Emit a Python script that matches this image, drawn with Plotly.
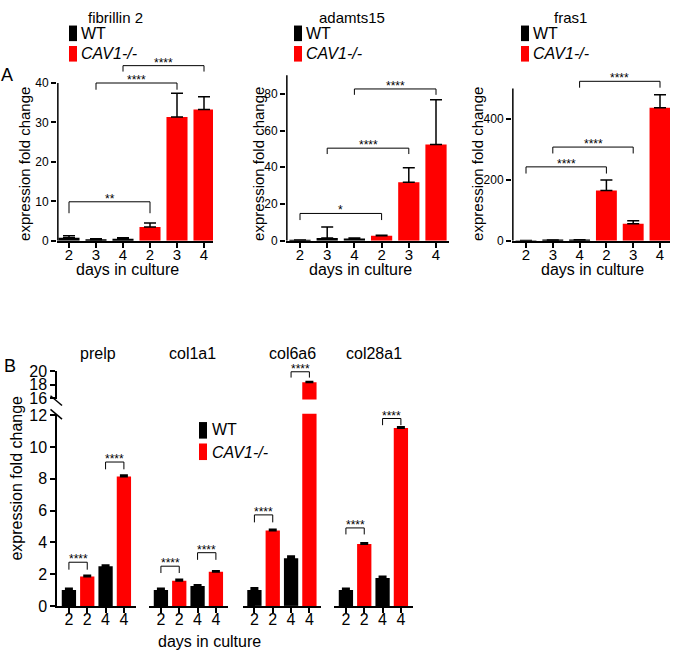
import plotly.graph_objects as go

W, H = 675, 660
FONT = "Liberation Sans, Arial, Helvetica, sans-serif"
BLACK = "#000000"
RED = "#ff0000"

# ---------------- Panel A data ----------------
a_titles = ["fibrillin 2", "adamts15", "fras1"]
a_tick_labels = ["2", "3", "4", "2", "3", "4"]
a_wt_x = [0, 1, 2]
a_cav_x = [3, 4, 5]
a_wt = [[0.8, 0.3, 0.5], [0.5, 1.5, 1.3], [1.0, 2.0, 3.0]]
a_wt_err = [[0.5, 0.2, 0.3], [0.0, 6.0, 0.2], [0.5, 0.5, 1.0]]
a_cav = [[3.5, 31.4, 33.3], [2.8, 31.8, 52.4], [165, 56, 437]]
a_cav_err = [[1.0, 6.0, 3.2], [0.2, 8.0, 24.3], [35, 10, 43]]
a_yticks = [[0, 10, 20, 30, 40], [0, 20, 40, 60, 80], [0, 200, 400]]
a_axis_top = [40, 90, 500]
# (bar from, bar to, bracket top, tip end, label)
a_brackets = [
    [(0, 3, 9.9, 7.0, "**"), (1, 4, 40.0, 38.3, "****"), (2, 5, 44.4, 42.9, "****")],
    [(0, 3, 14.9, 11.3, "*"), (1, 4, 50.4, 47.2, "****"), (2, 5, 82.6, 79.4, "****")],
    [(0, 3, 243, 221, "****"), (1, 4, 308, 287, "****"), (2, 5, 524, 503, "****")],
]

# ---------------- Panel B data ----------------
b_genes = ["prelp", "col1a1", "col6a6", "col28a1"]
b_tick_labels = ["2", "2", "4", "4"]
b_wt_x = [0, 2]
b_cav_x = [1, 3]
b_wt = [[1.0, 2.5], [1.0, 1.25], [1.0, 3.0], [1.0, 1.75]]
b_wt_err = [[0.1, 0.06], [0.1, 0.06], [0.12, 0.12], [0.1, 0.1]]
b_cav = [[1.85, 8.15], [1.58, 2.15], [4.75, 18.35], [3.9, 11.2]]
b_cav_err = [[0.06, 0.07], [0.08, 0.05], [0.06, 0.1], [0.06, 0.06]]
b_low_ticks = [0, 2, 4, 6, 8, 10, 12]
b_up_ticks = [16, 18, 20]
b_low_range = [0, 12.1]
b_up_range = [15.85, 20.05]
b_brackets = [
    [(0, 1, 2.75, 2.28, "****"), (2, 3, 9.06, 8.6, "****")],
    [(0, 1, 2.5, 2.07, "****"), (2, 3, 3.35, 2.9, "****")],
    [(0, 1, 5.73, 5.26, "****"), (2, 3, 19.9, 19.05, "****")],
    [(0, 1, 4.91, 4.5, "****"), (2, 3, 11.8, 11.38, "****")],
]


def xdom(p0, p1):
    return [p0 / W, p1 / W]


def ydom(top, bottom):
    return [1 - bottom / H, 1 - top / H]


def px(x):
    return x / W


def py(y):
    return 1 - y / H


common = dict(showgrid=False, zeroline=False, linecolor=BLACK, linewidth=1.5,
              tickcolor=BLACK, tickwidth=1.5, ticks="outside", ticklen=5,
              fixedrange=True)

fig = go.Figure()
shapes = []
annotations = []
layout_axes = {}


def txt(x, y, s, size, xanchor="center", yanchor="middle", angle=0):
    annotations.append(dict(x=px(x), y=py(y), xref="paper", yref="paper", text=s,
                            showarrow=False, xanchor=xanchor, yanchor=yanchor,
                            textangle=angle, font=dict(size=size, color=BLACK)))


def bracket(xa, ya, b0, b1, ytop, ytip, lab, width=1):
    shapes.append(dict(type="path", xref=xa, yref=ya,
                       path=f"M {b0},{ytip} L {b0},{ytop} L {b1},{ytop} L {b1},{ytip}",
                       line=dict(color=BLACK, width=width)))
    annotations.append(dict(x=(b0 + b1) / 2, y=ytop, xref=xa, yref=ya, text=lab,
                            showarrow=False, xanchor="center", yanchor="bottom", yshift=-6,
                            font=dict(size=12, color=BLACK)))


def bars(x, y, err, color, xa, ya, thick, cap):
    fig.add_trace(go.Bar(
        x=x, y=y, width=0.78, marker=dict(color=color, line=dict(width=0)),
        error_y=dict(type="data", symmetric=False, array=err, arrayminus=[0] * len(err),
                     color=BLACK, thickness=thick, width=cap),
        xaxis=xa, yaxis=ya, showlegend=False, hoverinfo="skip"))


# ---------------- Panel A ----------------
a_geom = [
    dict(x0=57, x1=213, c0=69, step=27.0, y0px=239, ppu=4.05, rmax=46),
    dict(x0=286, x1=449, c0=300, step=27.2, y0px=239, ppu=1.8875, rmax=92),
    dict(x0=512, x1=670, c0=526, step=26.8, y0px=239, ppu=0.3125, rmax=540),
]
a_title_x = [115, 352, 570]
a_swatch_x = [69, 294, 521]
a_ytitle_x = [25, 259, 478]
a_xtitle_x = [127, 360, 592]

for i in range(3):
    g = a_geom[i]
    xa = "x" if i == 0 else f"x{i + 1}"
    ya = "y" if i == 0 else f"y{i + 1}"
    xr = [(g["x0"] - g["c0"]) / g["step"], (g["x1"] - g["c0"]) / g["step"]]
    top_px = g["y0px"] - g["rmax"] * g["ppu"]
    bars(a_wt_x, a_wt[i], a_wt_err[i], BLACK, xa, ya, 1.5, 6)
    bars(a_cav_x, a_cav[i], a_cav_err[i], RED, xa, ya, 1.5, 6)
    layout_axes["xaxis" if i == 0 else f"xaxis{i + 1}"] = dict(
        domain=xdom(g["x0"], g["x1"]), range=xr, anchor=ya,
        tickvals=a_wt_x + a_cav_x, ticktext=a_tick_labels, showline=True,
        ticklabelstandoff=-6,
        tickfont=dict(size=15, color=BLACK), **common)
    layout_axes["yaxis" if i == 0 else f"yaxis{i + 1}"] = dict(
        domain=ydom(top_px, g["y0px"]), range=[0, g["rmax"]], anchor=xa,
        tickvals=a_yticks[i], showline=False,
        tickfont=dict(size=12, color=BLACK), **common)
    xl = xr[0] + 0.85 / g["step"]
    shapes.append(dict(type="line", xref=xa, yref=ya, x0=xl, x1=xl, y0=0,
                       y1=a_axis_top[i], line=dict(color=BLACK, width=1.5)))
    for (b0, b1, yt, yp, lab) in a_brackets[i]:
        bracket(xa, ya, b0, b1, yt, yp, lab)
    # titles / labels
    txt(a_title_x[i], 10, a_titles[i], 15)
    sx = a_swatch_x[i]
    shapes.append(dict(type="rect", xref="paper", yref="paper", x0=px(sx), x1=px(sx + 8),
                       y0=py(34), y1=py(18), fillcolor=BLACK, line=dict(width=0)))
    shapes.append(dict(type="rect", xref="paper", yref="paper", x0=px(sx), x1=px(sx + 8),
                       y0=py(55), y1=py(39), fillcolor=RED, line=dict(width=0)))
    txt(sx + 10, 26, "WT", 16, xanchor="left")
    txt(sx + 10, 47, "<i>CAV1-/-</i>", 16, xanchor="left")
    txt(a_ytitle_x[i], 160, "expression fold change", 15, angle=-90)
    txt(a_xtitle_x[i], 268, "days in culture", 16)

txt(7, 69, "A", 18)

# ---------------- Panel B ----------------
b_x0 = [57, 149, 242.5, 334]
b_w = 78.5
b_step = 18.33
b_xr = [-0.65, -0.65 + b_w / b_step]
low_top = 613.7 - b_low_range[1] * 16.3
up_bottom = 372.7 + (20 - b_up_range[0]) * 7.0
up_top = 372.7 - (b_up_range[1] - 20) * 7.0
b_title_x = [98, 192, 292, 374]

for k in range(4):
    xa = f"x{k + 4}"
    for ya in ("y4", "y5"):
        bars(b_wt_x, b_wt[k], b_wt_err[k], BLACK, xa, ya, 2, 4)
        bars(b_cav_x, b_cav[k], b_cav_err[k], RED, xa, ya, 2, 4)
    layout_axes[f"xaxis{k + 4}"] = dict(
        domain=xdom(b_x0[k], b_x0[k] + b_w), range=b_xr, anchor="y4",
        tickvals=[0, 1, 2, 3], ticktext=b_tick_labels, showline=True,
        ticklabelstandoff=-7,
        tickfont=dict(size=16, color=BLACK), **common)
    for (b0, b1, yt, yp, lab) in b_brackets[k]:
        ya = "y5" if yt > b_low_range[1] else "y4"
        bracket(xa, ya, b0, b1, yt, yp, lab)
    txt(b_title_x[k], 355, b_genes[k], 16)

layout_axes["yaxis4"] = dict(domain=ydom(low_top, 613.7), range=b_low_range, anchor="x4",
                             tickvals=b_low_ticks, showline=True,
                             tickfont=dict(size=16, color=BLACK), **common)
layout_axes["yaxis5"] = dict(domain=ydom(up_top, up_bottom), range=b_up_range, anchor="x4",
                             tickvals=b_up_ticks, showline=True,
                             tickfont=dict(size=16, color=BLACK), **common)

# axis break marks
for cy in (403, 417):
    shapes.append(dict(type="line", xref="paper", yref="paper", x0=px(50.5), x1=px(62),
                       y0=py(cy - 5), y1=py(cy + 5), line=dict(color=BLACK, width=1.5)))

# legend B
shapes.append(dict(type="rect", xref="paper", yref="paper", x0=px(199), x1=px(207),
                   y0=py(442), y1=py(425), fillcolor=BLACK, line=dict(width=0)))
shapes.append(dict(type="rect", xref="paper", yref="paper", x0=px(199), x1=px(207),
                   y0=py(464), y1=py(447), fillcolor=RED, line=dict(width=0)))
txt(210, 433, "WT", 16, xanchor="left")
txt(210, 456, "<i>CAV1-/-</i>", 16, xanchor="left")

txt(17, 483, "expression fold change", 16, angle=-90)
txt(209, 650, "days in culture", 16)
txt(10, 367, "B", 18)

fig.update_layout(
    width=W, height=H, margin=dict(l=0, r=0, t=0, b=0),
    paper_bgcolor="white", plot_bgcolor="white",
    font=dict(family=FONT, color=BLACK),
    barmode="overlay", showlegend=False,
    shapes=shapes, annotations=annotations,
    **layout_axes,
)

fig.write_html("out.html", config={"displayModeBar": False},
               post_script="document.body.style.margin='0';document.body.style.overflow='hidden';")
